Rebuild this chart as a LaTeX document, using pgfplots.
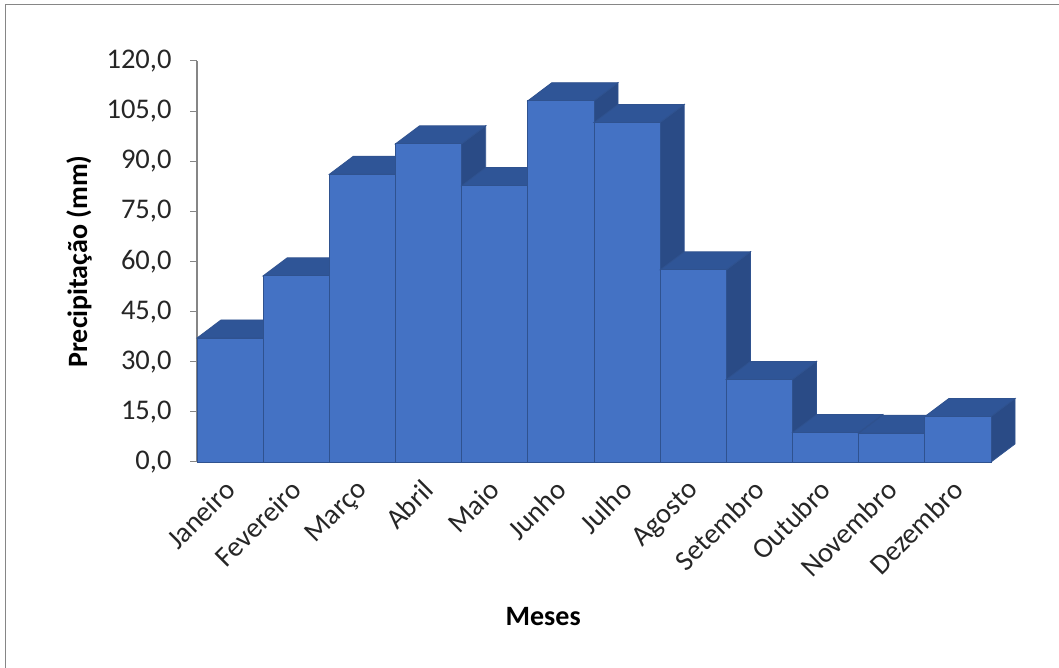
\documentclass[border=0pt]{standalone}
\usepackage{pgfplots}
\pgfplotsset{compat=1.18}
\usepackage{pgfplotstable}
\usepackage{fontspec}
\setmainfont{Carlito}

\definecolor{frente}{HTML}{4472C4}
\definecolor{topo}{HTML}{2F5597}
\definecolor{lado}{HTML}{2A4B86}
\definecolor{borda}{HTML}{2F528F}
\definecolor{eixo}{HTML}{868686}

% precipitacao mensal (mm)
\pgfplotstableread{
mes valor
Janeiro 37.1
Fevereiro 55.7
Marco 86.1
Abril 95.2
Maio 82.7
Junho 108.1
Julho 101.6
Agosto 57.5
Setembro 24.7
Outubro 8.8
Novembro 8.6
Dezembro 13.6
}\precip

% profundidade do efeito 3D (unidades do eixo)
\def\dx{0.363}
\def\dy{5.4}

\begin{document}
\begin{tikzpicture}
\useasboundingbox (0,0) rectangle (1059pt,668pt);
\draw[eixo, line width=1pt] (5.7pt,0) -- (5.7pt,663.7pt) -- (1059pt,663.7pt);
\begin{axis}[
    at={(197pt,206pt)}, anchor=south west,
    scale only axis, width=794pt, height=401pt,
    xmin=-0.5, xmax=11.5,
    ymin=0, ymax=120,
    clip=false,
    axis lines*=left,
    axis line style={eixo, line width=1.2pt},
    ytick distance=15,
    xtick={0,...,11},
    xticklabels={Janeiro,Fevereiro,Março,Abril,Maio,Junho,Julho,Agosto,Setembro,Outubro,Novembro,Dezembro},
    x tick style={draw=none},
    y tick style={eixo, line width=1pt},
    tick align=outside,
    major tick length=7pt,
    /pgf/number format/.cd, fixed, fixed zerofill, precision=1, use comma, assume math mode=true,
    /pgfplots/.cd,
    yticklabel={\pgfmathprintnumber{\tick}},
    tick label style={font=\fontsize{28.5}{33}\selectfont, text=black!85},
    yticklabel style={xshift=-15pt},
    xticklabel style={xshift=-7pt, yshift=-9pt, rotate=45, anchor=north east, inner sep=0pt},
    ylabel={Precipitação (mm)},
    xlabel={Meses},
    every axis y label/.style={at={(axis description cs:-0.1486,0.5)}, rotate=90, anchor=center,
        font=\fontsize{28}{33}\selectfont\bfseries},
    every axis x label/.style={at={(axis description cs:0.436,-0.3865)}, anchor=center,
        font=\fontsize{28}{33}\selectfont\bfseries},
]
\pgfplotsinvokeforeach{0,...,11}{
    \pgfplotstablegetelem{#1}{valor}\of\precip
    \pgfmathsetmacro\h{\pgfplotsretval}
    \pgfmathsetmacro\xa{#1-0.5}
    \pgfmathsetmacro\xb{#1+0.5}
    \pgfmathsetmacro\xc{#1+0.5+\dx}
    \pgfmathsetmacro\xd{#1-0.5+\dx}
    \pgfmathsetmacro\hh{\h+\dy}
    \edef\barra{
        \noexpand\addplot[fill=lado, draw=borda, line width=0.8pt] coordinates {(\xb,0) (\xc,\dy) (\xc,\hh) (\xb,\h)} -- cycle;
        \noexpand\addplot[fill=topo, draw=borda, line width=0.8pt] coordinates {(\xa,\h) (\xb,\h) (\xc,\hh) (\xd,\hh)} -- cycle;
        \noexpand\addplot[fill=frente, draw=borda, line width=0.8pt] coordinates {(\xa,0) (\xb,0) (\xb,\h) (\xa,\h)} -- cycle;
    }
    \barra
}
\end{axis}
\end{tikzpicture}
\end{document}
